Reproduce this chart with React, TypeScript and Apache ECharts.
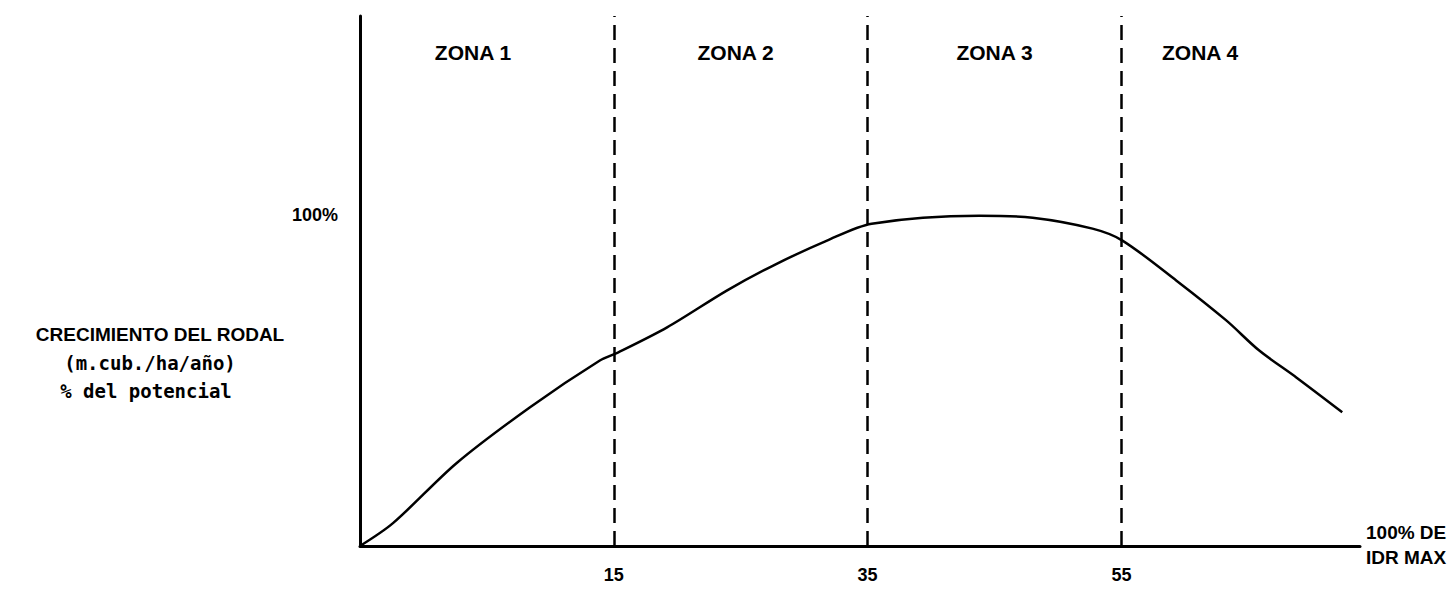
import React, { useEffect, useRef } from "react";
import * as echarts from "echarts";

// x positions are in "zone units": 0 = origin, 1/2/3 = zone boundaries (15, 35, 55 % IDR max)
const boundaryLabels = ["15", "35", "55"];
const boundaryPositions = [1, 2, 3];
const curveX = [0, 0.13, 0.38, 0.67, 0.945, 1.016, 1.21, 1.445, 1.626, 1.84, 2.016, 2.44, 2.65, 2.886, 3.004, 3.217, 3.413, 3.543, 3.689, 3.87];
const curveY = [0, 6.9, 25, 41.9, 56, 58.4, 66, 77.1, 84.6, 92.2, 97.3, 99.7, 99.1, 95.8, 92.2, 80.1, 68.1, 59.0, 50.9, 40.4];
const zoneNames = ["ZONA 1", "ZONA 2", "ZONA 3", "ZONA 4"];
const zoneLabelX = [0.445, 1.48, 2.5, 3.31];
const zoneLabelY = 149;
const yTickLabel = "100%";
const yTitleLines = ["CRECIMIENTO DEL RODAL", "(m.cub./ha/año)", "% del potencial"];
const xTitleLines = ["100% DE", "IDR MAX"];

const SANS = "'Liberation Sans', Arial, sans-serif";
const MONO = "'DejaVu Sans Mono', 'Liberation Mono', monospace";

export default function App() {
  const ref = useRef<HTMLDivElement>(null);
  useEffect(() => {
    if (!ref.current) return;
    const chart = echarts.init(ref.current, undefined, { renderer: "svg" });
    chart.setOption({
      animation: false,
      backgroundColor: "#ffffff",
      grid: { left: 360, top: 16, right: 93, bottom: 43, containLabel: false },
      xAxis: {
        type: "value",
        min: 0,
        max: 3.94,
        interval: 1,
        axisLine: { show: true, lineStyle: { color: "#000", width: 3 } },
        axisTick: { show: false },
        splitLine: { show: false },
        axisLabel: {
          showMaxLabel: false,
          margin: 20,
          color: "#000",
          fontFamily: SANS,
          fontWeight: "bold",
          fontSize: 18,
          formatter: (v: number) => {
            const i = boundaryPositions.indexOf(v);
            return i >= 0 ? boundaryLabels[i] : "";
          },
        },
      },
      yAxis: {
        type: "value",
        min: 0,
        max: 160,
        interval: 100,
        axisLine: { show: true, lineStyle: { color: "#000", width: 3 } },
        axisTick: { show: false },
        splitLine: { show: false },
        axisLabel: {
          showMaxLabel: false,
          margin: 22,
          color: "#000",
          fontFamily: SANS,
          fontWeight: "bold",
          fontSize: 18,
          formatter: (v: number) => (v === 100 ? yTickLabel : ""),
        },
      },
      series: [
        {
          type: "line",
          data: curveX.map((x, i) => [x, curveY[i]]),
          smooth: 0.3,
          showSymbol: false,
          lineStyle: { color: "#000", width: 2.5 },
          markLine: {
            silent: true,
            symbol: "none",
            label: { show: false },
            lineStyle: { color: "#000", width: 2.5, type: [15, 8] },
            data: boundaryPositions.map((p) => ({ xAxis: p })),
          },
        },
        {
          type: "scatter",
          symbolSize: 0,
          itemStyle: { opacity: 1 },
          data: zoneNames.map((n, i) => ({ name: n, value: [zoneLabelX[i], zoneLabelY] })),
          label: {
            show: true,
            position: "inside",
            formatter: (p: any) => p.name,
            color: "#000",
            opacity: 1,
            fontFamily: SANS,
            fontWeight: "bold",
            fontSize: 21,
          },
        },
      ],
      graphic: [
        {
          type: "text",
          x: 160,
          y: 334,
          style: { text: yTitleLines[0], fill: "#000", font: `bold 19px ${SANS}`, align: "center", verticalAlign: "middle" },
        },
        {
          type: "text",
          x: 150,
          y: 363,
          style: { text: yTitleLines[1], fill: "#000", font: `bold 19px ${MONO}`, align: "center", verticalAlign: "middle" },
        },
        {
          type: "text",
          x: 146,
          y: 391,
          style: { text: yTitleLines[2], fill: "#000", font: `bold 19px ${MONO}`, align: "center", verticalAlign: "middle" },
        },
        {
          type: "text",
          x: 1366,
          y: 532,
          style: { text: xTitleLines[0], fill: "#000", font: `bold 19px ${SANS}`, verticalAlign: "middle" },
        },
        {
          type: "text",
          x: 1366,
          y: 557,
          style: { text: xTitleLines[1], fill: "#000", font: `bold 19px ${SANS}`, verticalAlign: "middle" },
        },
      ],
    });
    return () => chart.dispose();
  }, []);
  return (
    <div
      ref={ref}
      style={{ position: "absolute", left: 0, top: 0, width: 1453, height: 589 }}
    />
  );
}
